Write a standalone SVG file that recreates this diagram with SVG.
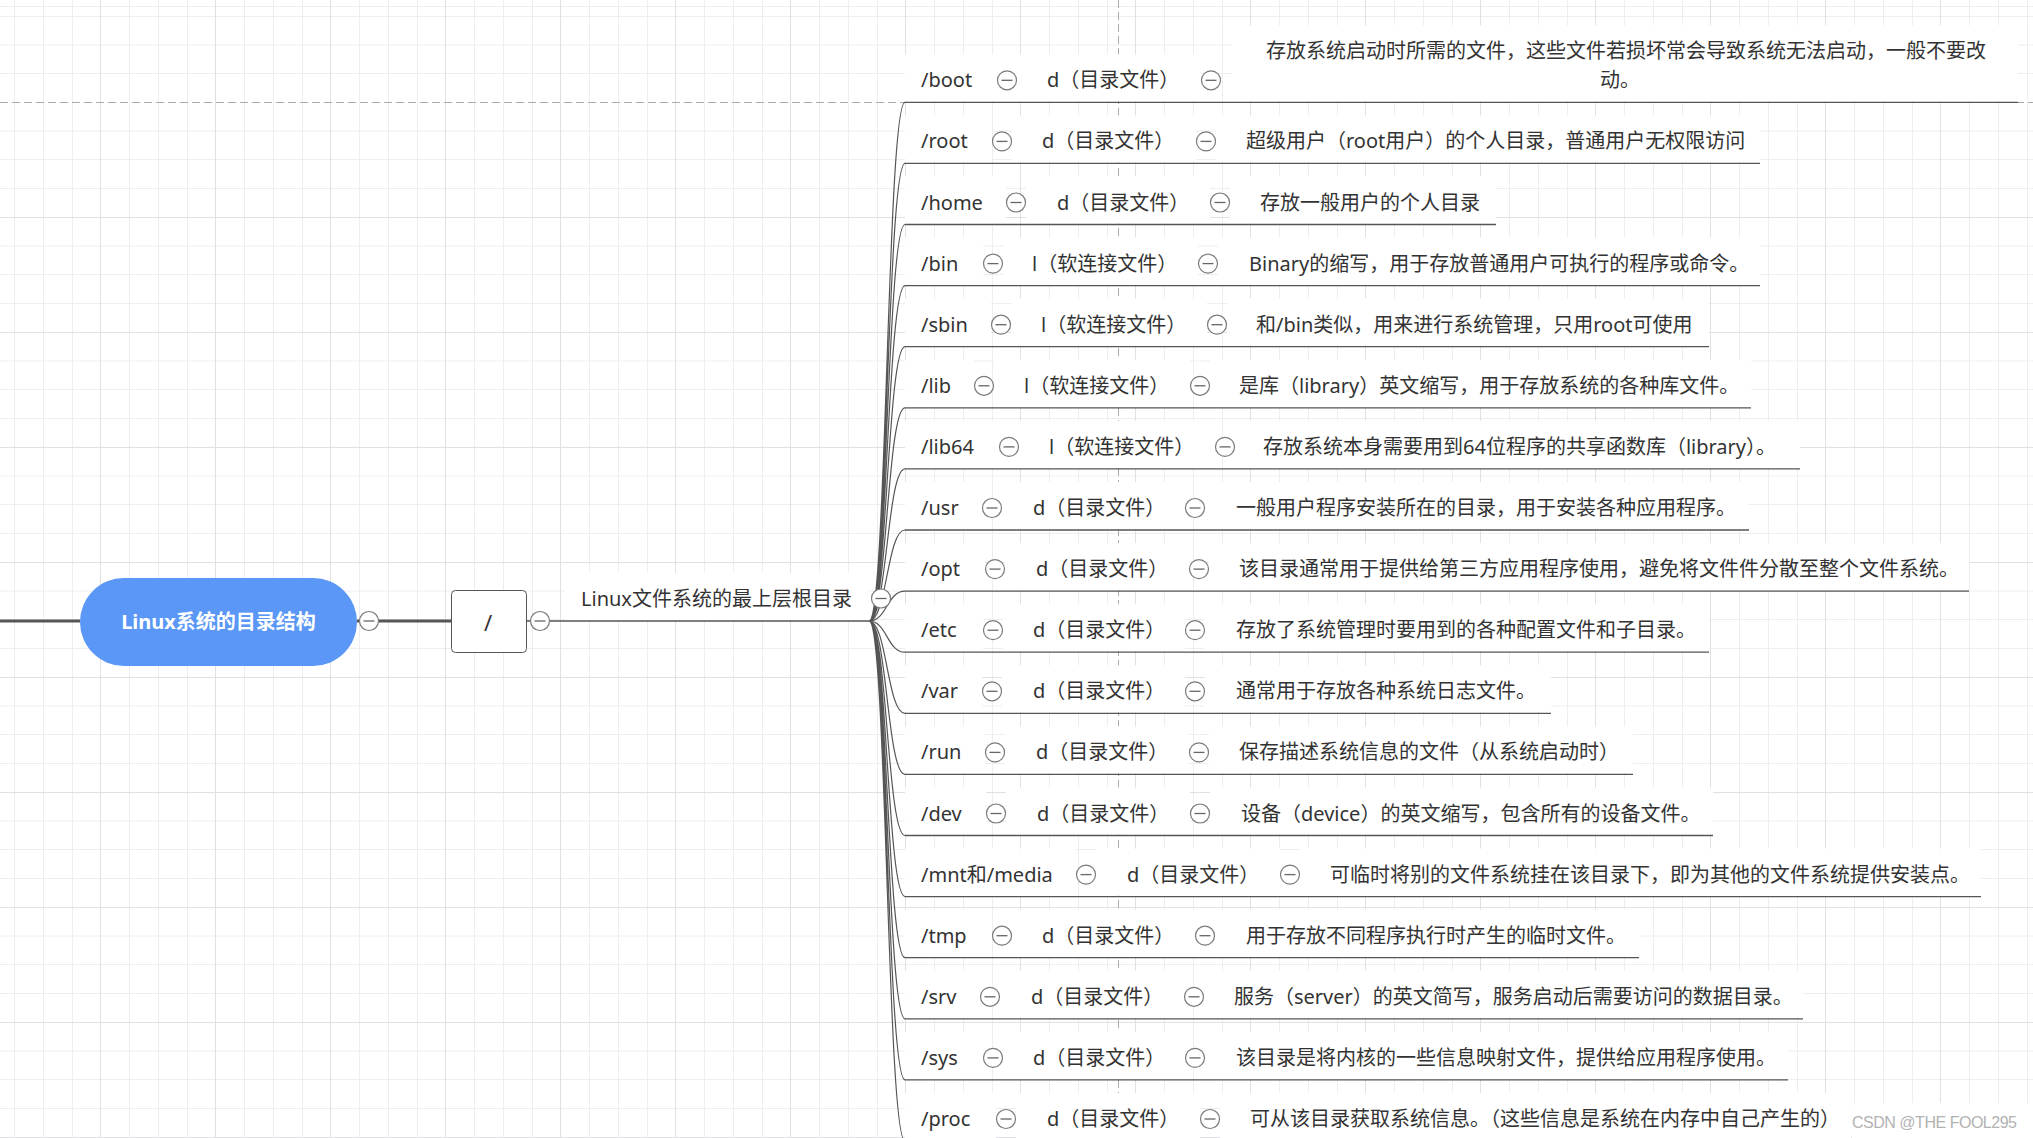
<svg xmlns="http://www.w3.org/2000/svg" xmlns:xlink="http://www.w3.org/1999/xlink" width="2033" height="1138" viewBox="0 0 2033 1138">
<style>
.t{font-family:"Noto Sans","Noto Sans CJK SC",sans-serif;font-size:20px;fill:#333}
.bg{fill:#fff}
.ul{stroke:#555;stroke-width:1.3;fill:none}
.minor{stroke:#eeeef2;stroke-width:1;fill:none}
.major{stroke:#e0e0e5;stroke-width:1;fill:none}
.dash{stroke:#ababab;stroke-width:1;stroke-dasharray:8 4;fill:none}
.thick{stroke:#555;stroke-width:3;fill:none}
.thin{stroke:#555;stroke-width:1.3;fill:none}
.br{stroke:#555;stroke-width:1.2;fill:none}
</style>
<defs>
<g id="minus"><circle r="9.5" fill="#fff" stroke="#7a7a7a" stroke-width="1.2"/><path d="M-5.5 0H5.5" stroke="#666" stroke-width="1.3"/></g>
</defs>
<rect width="2033" height="1138" fill="#fff"/>
<g id="grid">
<path class="minor" d="M14.5 0V1138M43.5 0V1138M72.5 0V1138M129.5 0V1138M158.5 0V1138M187.5 0V1138M244.5 0V1138M273.5 0V1138M302.5 0V1138M359.5 0V1138M388.5 0V1138M417.5 0V1138M474.5 0V1138M503.5 0V1138M532.5 0V1138M589.5 0V1138M618.5 0V1138M647.5 0V1138M704.5 0V1138M733.5 0V1138M762.5 0V1138M819.5 0V1138M848.5 0V1138M877.5 0V1138M934.5 0V1138M963.5 0V1138M992.5 0V1138M1049.5 0V1138M1078.5 0V1138M1107.5 0V1138M1164.5 0V1138M1193.5 0V1138M1222.5 0V1138M1279.5 0V1138M1308.5 0V1138M1337.5 0V1138M1394.5 0V1138M1423.5 0V1138M1452.5 0V1138M1509.5 0V1138M1538.5 0V1138M1567.5 0V1138M1624.5 0V1138M1653.5 0V1138M1682.5 0V1138M1739.5 0V1138M1768.5 0V1138M1797.5 0V1138M1854.5 0V1138M1883.5 0V1138M1912.5 0V1138M1969.5 0V1138M1998.5 0V1138M2027.5 0V1138
M0 6.5H2033M0 16.5H2033M0 45H2033M0 73.5H2033M0 131H2033M0 159.5H2033M0 188.5H2033M0 246H2033M0 274.5H2033M0 303.5H2033M0 361H2033M0 389.5H2033M0 418.5H2033M0 476H2033M0 504.5H2033M0 533.5H2033M0 591H2033M0 619.5H2033M0 648.5H2033M0 706H2033M0 734.5H2033M0 763.5H2033M0 821H2033M0 849.5H2033M0 878.5H2033M0 936H2033M0 964.5H2033M0 993.5H2033M0 1051H2033M0 1079.5H2033M0 1108.5H2033"/>
<path class="major" d="M100.5 0V1138M215.5 0V1138M330.5 0V1138M445.5 0V1138M560.5 0V1138M675.5 0V1138M790.5 0V1138M905.5 0V1138M1020.5 0V1138M1135.5 0V1138M1250.5 0V1138M1365.5 0V1138M1480.5 0V1138M1595.5 0V1138M1710.5 0V1138M1825.5 0V1138M1940.5 0V1138
M0 217.5H2033M0 332.5H2033M0 447.5H2033M0 562.5H2033M0 677.5H2033M0 792.5H2033M0 907.5H2033M0 1022.5H2033M0 1137.5H2033"/>
<path class="dash" d="M0 102.5H2033M1118.5 0V1138"/>
</g>
<g id="connectors">
<path class="thick" d="M0 621H80M357 621H451"/>
<path class="thin" d="M526 621H869"/>
<path class="br" d="M869 621C887 621 887 102.3 905 102.3M869 621C887 621 887 163.4 905 163.4M869 621C887 621 887 224.5 905 224.5M869 621C887 621 887 285.6 905 285.6M869 621C887 621 887 346.7 905 346.7M869 621C887 621 887 407.8 905 407.8M869 621C887 621 887 468.9 905 468.9M869 621C887 621 887 530 905 530M869 621C887 621 887 591.1 905 591.1M869 621C887 621 887 652.2 905 652.2M869 621C887 621 887 713.3 905 713.3M869 621C887 621 887 774.4 905 774.4M869 621C887 621 887 835.5 905 835.5M869 621C887 621 887 896.6 905 896.6M869 621C887 621 887 957.7 905 957.7M869 621C887 621 887 1018.8 905 1018.8M869 621C887 621 887 1079.9 905 1079.9M869 621C887 621 887 1141 905 1141"/>
</g>
<g id="node-root">
<rect x="80" y="578" width="277" height="88" rx="44" fill="#5a97f6"/>
<text x="218.5" y="629" text-anchor="middle" style="font-family:'Noto Sans','Noto Sans CJK SC',sans-serif;font-size:20px;font-weight:bold;fill:#fff">Linux系统的目录结构</text>
<use href="#minus" x="369" y="621"/>
</g>
<g id="node-slash">
<rect x="451.5" y="590.5" width="75" height="62" rx="4" fill="#fff" stroke="#555" stroke-width="1"/>
<text x="488" y="631" text-anchor="middle" class="t" style="font-size:22px">/</text>
<use href="#minus" x="540" y="621"/>
</g>
<g id="node-label">
<rect class="bg" x="565" y="573" width="304" height="47"/>
<text class="t" x="581" y="606">Linux文件系统的最上层根目录</text>
<use href="#minus" x="881" y="598.5"/>
</g>

<g id="row-boot" transform="translate(0,102.3)">
<g id="n-boot"><rect class="bg" x="905" y="-48" width="92" height="47"/><path class="ul" d="M905 0H1007"/><text class="t" x="921" y="-15">/boot</text></g>
<g id="n-boot-type"><rect class="bg" x="1017" y="-48" width="184" height="47"/><path class="ul" d="M1007 0H1211"/><text class="t" x="1047" y="-15">d（目录文件）</text></g>
<g id="n-boot-desc"><rect class="bg" x="1232" y="-77" width="786" height="76"/><path class="ul" d="M1211 0H2018"/><text class="t" x="1626" y="-44.3" text-anchor="middle">存放系统启动时所需的文件，这些文件若损坏常会导致系统无法启动，一般不要改</text><text class="t" x="1620" y="-15" text-anchor="middle">动。</text></g>
<use href="#minus" x="1007" y="-22"/><use href="#minus" x="1211" y="-22"/>
</g>

<g id="row-root" transform="translate(0,163.4)">
<g id="n-root"><rect class="bg" x="905" y="-48" width="87" height="47"/><path class="ul" d="M905 0H1002"/><text class="t" x="921" y="-15">/root</text></g>
<g id="n-root-type"><rect class="bg" x="1012" y="-48" width="184" height="47"/><path class="ul" d="M1002 0H1206"/><text class="t" x="1042" y="-15">d（目录文件）</text></g>
<g id="n-root-desc"><rect class="bg" x="1216" y="-48" width="544" height="47"/><path class="ul" d="M1206 0H1760"/><text class="t" x="1246" y="-15">超级用户（root用户）的个人目录，普通用户无权限访问</text></g>
<use href="#minus" x="1002" y="-22"/><use href="#minus" x="1206" y="-22"/>
</g>

<g id="row-home" transform="translate(0,224.5)">
<g id="n-home"><rect class="bg" x="905" y="-48" width="101" height="47"/><path class="ul" d="M905 0H1016"/><text class="t" x="921" y="-15">/home</text></g>
<g id="n-home-type"><rect class="bg" x="1026" y="-48" width="184" height="47"/><path class="ul" d="M1016 0H1220"/><text class="t" x="1057" y="-15">d（目录文件）</text></g>
<g id="n-home-desc"><rect class="bg" x="1230" y="-48" width="266" height="47"/><path class="ul" d="M1220 0H1496"/><text class="t" x="1260" y="-15">存放一般用户的个人目录</text></g>
<use href="#minus" x="1016" y="-22"/><use href="#minus" x="1220" y="-22"/>
</g>

<g id="row-bin" transform="translate(0,285.6)">
<g id="n-bin"><rect class="bg" x="905" y="-48" width="78" height="47"/><path class="ul" d="M905 0H993"/><text class="t" x="921" y="-15">/bin</text></g>
<g id="n-bin-type"><rect class="bg" x="1003" y="-48" width="195" height="47"/><path class="ul" d="M993 0H1208"/><text class="t" x="1032" y="-15">l（软连接文件）</text></g>
<g id="n-bin-desc"><rect class="bg" x="1218" y="-48" width="542" height="47"/><path class="ul" d="M1208 0H1760"/><text class="t" x="1249" y="-15">Binary的缩写，用于存放普通用户可执行的程序或命令。</text></g>
<use href="#minus" x="993" y="-22"/><use href="#minus" x="1208" y="-22"/>
</g>

<g id="row-sbin" transform="translate(0,346.7)">
<g id="n-sbin"><rect class="bg" x="905" y="-48" width="86" height="47"/><path class="ul" d="M905 0H1001"/><text class="t" x="921" y="-15">/sbin</text></g>
<g id="n-sbin-type"><rect class="bg" x="1011" y="-48" width="196" height="47"/><path class="ul" d="M1001 0H1217"/><text class="t" x="1041" y="-15">l（软连接文件）</text></g>
<g id="n-sbin-desc"><rect class="bg" x="1227" y="-48" width="482" height="47"/><path class="ul" d="M1217 0H1709"/><text class="t" x="1256" y="-15">和/bin类似，用来进行系统管理，只用root可使用</text></g>
<use href="#minus" x="1001" y="-22"/><use href="#minus" x="1217" y="-22"/>
</g>

<g id="row-lib" transform="translate(0,407.8)">
<g id="n-lib"><rect class="bg" x="905" y="-48" width="69" height="47"/><path class="ul" d="M905 0H984"/><text class="t" x="921" y="-15">/lib</text></g>
<g id="n-lib-type"><rect class="bg" x="994" y="-48" width="196" height="47"/><path class="ul" d="M984 0H1200"/><text class="t" x="1024" y="-15">l（软连接文件）</text></g>
<g id="n-lib-desc"><rect class="bg" x="1210" y="-48" width="541" height="47"/><path class="ul" d="M1200 0H1751"/><text class="t" x="1239" y="-15">是库（library）英文缩写，用于存放系统的各种库文件。</text></g>
<use href="#minus" x="984" y="-22"/><use href="#minus" x="1200" y="-22"/>
</g>

<g id="row-lib64" transform="translate(0,468.9)">
<g id="n-lib64"><rect class="bg" x="905" y="-48" width="94" height="47"/><path class="ul" d="M905 0H1009"/><text class="t" x="921" y="-15">/lib64</text></g>
<g id="n-lib64-type"><rect class="bg" x="1019" y="-48" width="196" height="47"/><path class="ul" d="M1009 0H1225"/><text class="t" x="1049" y="-15">l（软连接文件）</text></g>
<g id="n-lib64-desc"><rect class="bg" x="1235" y="-48" width="565" height="47"/><path class="ul" d="M1225 0H1800"/><text class="t" x="1263" y="-15">存放系统本身需要用到64位程序的共享函数库（library）。</text></g>
<use href="#minus" x="1009" y="-22"/><use href="#minus" x="1225" y="-22"/>
</g>

<g id="row-usr" transform="translate(0,530)">
<g id="n-usr"><rect class="bg" x="905" y="-48" width="77" height="47"/><path class="ul" d="M905 0H992"/><text class="t" x="921" y="-15">/usr</text></g>
<g id="n-usr-type"><rect class="bg" x="1002" y="-48" width="183" height="47"/><path class="ul" d="M992 0H1195"/><text class="t" x="1033" y="-15">d（目录文件）</text></g>
<g id="n-usr-desc"><rect class="bg" x="1205" y="-48" width="544" height="47"/><path class="ul" d="M1195 0H1749"/><text class="t" x="1236" y="-15">一般用户程序安装所在的目录，用于安装各种应用程序。</text></g>
<use href="#minus" x="992" y="-22"/><use href="#minus" x="1195" y="-22"/>
</g>

<g id="row-opt" transform="translate(0,591.1)">
<g id="n-opt"><rect class="bg" x="905" y="-48" width="80" height="47"/><path class="ul" d="M905 0H995"/><text class="t" x="921" y="-15">/opt</text></g>
<g id="n-opt-type"><rect class="bg" x="1005" y="-48" width="184" height="47"/><path class="ul" d="M995 0H1199"/><text class="t" x="1036" y="-15">d（目录文件）</text></g>
<g id="n-opt-desc"><rect class="bg" x="1209" y="-48" width="760" height="47"/><path class="ul" d="M1199 0H1969"/><text class="t" x="1239" y="-15">该目录通常用于提供给第三方应用程序使用，避免将文件件分散至整个文件系统。</text></g>
<use href="#minus" x="995" y="-22"/><use href="#minus" x="1199" y="-22"/>
</g>

<g id="row-etc" transform="translate(0,652.2)">
<g id="n-etc"><rect class="bg" x="905" y="-48" width="78" height="47"/><path class="ul" d="M905 0H993"/><text class="t" x="921" y="-15">/etc</text></g>
<g id="n-etc-type"><rect class="bg" x="1003" y="-48" width="182" height="47"/><path class="ul" d="M993 0H1195"/><text class="t" x="1033" y="-15">d（目录文件）</text></g>
<g id="n-etc-desc"><rect class="bg" x="1205" y="-48" width="504" height="47"/><path class="ul" d="M1195 0H1709"/><text class="t" x="1236" y="-15">存放了系统管理时要用到的各种配置文件和子目录。</text></g>
<use href="#minus" x="993" y="-22"/><use href="#minus" x="1195" y="-22"/>
</g>

<g id="row-var" transform="translate(0,713.3)">
<g id="n-var"><rect class="bg" x="905" y="-48" width="77" height="47"/><path class="ul" d="M905 0H992"/><text class="t" x="921" y="-15">/var</text></g>
<g id="n-var-type"><rect class="bg" x="1002" y="-48" width="183" height="47"/><path class="ul" d="M992 0H1195"/><text class="t" x="1033" y="-15">d（目录文件）</text></g>
<g id="n-var-desc"><rect class="bg" x="1205" y="-48" width="346" height="47"/><path class="ul" d="M1195 0H1551"/><text class="t" x="1236" y="-15">通常用于存放各种系统日志文件。</text></g>
<use href="#minus" x="992" y="-22"/><use href="#minus" x="1195" y="-22"/>
</g>

<g id="row-run" transform="translate(0,774.4)">
<g id="n-run"><rect class="bg" x="905" y="-48" width="80" height="47"/><path class="ul" d="M905 0H995"/><text class="t" x="921" y="-15">/run</text></g>
<g id="n-run-type"><rect class="bg" x="1005" y="-48" width="184" height="47"/><path class="ul" d="M995 0H1199"/><text class="t" x="1036" y="-15">d（目录文件）</text></g>
<g id="n-run-desc"><rect class="bg" x="1209" y="-48" width="424" height="47"/><path class="ul" d="M1199 0H1633"/><text class="t" x="1239" y="-15">保存描述系统信息的文件（从系统启动时）</text></g>
<use href="#minus" x="995" y="-22"/><use href="#minus" x="1199" y="-22"/>
</g>

<g id="row-dev" transform="translate(0,835.5)">
<g id="n-dev"><rect class="bg" x="905" y="-48" width="81" height="47"/><path class="ul" d="M905 0H996"/><text class="t" x="921" y="-15">/dev</text></g>
<g id="n-dev-type"><rect class="bg" x="1006" y="-48" width="184" height="47"/><path class="ul" d="M996 0H1200"/><text class="t" x="1037" y="-15">d（目录文件）</text></g>
<g id="n-dev-desc"><rect class="bg" x="1210" y="-48" width="503" height="47"/><path class="ul" d="M1200 0H1713"/><text class="t" x="1241" y="-15">设备（device）的英文缩写，包含所有的设备文件。</text></g>
<use href="#minus" x="996" y="-22"/><use href="#minus" x="1200" y="-22"/>
</g>

<g id="row-mnt" transform="translate(0,896.6)">
<g id="n-mnt"><rect class="bg" x="905" y="-48" width="171" height="47"/><path class="ul" d="M905 0H1086"/><text class="t" x="921" y="-15">/mnt和/media</text></g>
<g id="n-mnt-type"><rect class="bg" x="1096" y="-48" width="184" height="47"/><path class="ul" d="M1086 0H1290"/><text class="t" x="1127" y="-15">d（目录文件）</text></g>
<g id="n-mnt-desc"><rect class="bg" x="1300" y="-48" width="681" height="47"/><path class="ul" d="M1290 0H1981"/><text class="t" x="1330" y="-15">可临时将别的文件系统挂在该目录下，即为其他的文件系统提供安装点。</text></g>
<use href="#minus" x="1086" y="-22"/><use href="#minus" x="1290" y="-22"/>
</g>

<g id="row-tmp" transform="translate(0,957.7)">
<g id="n-tmp"><rect class="bg" x="905" y="-48" width="87" height="47"/><path class="ul" d="M905 0H1002"/><text class="t" x="921" y="-15">/tmp</text></g>
<g id="n-tmp-type"><rect class="bg" x="1012" y="-48" width="183" height="47"/><path class="ul" d="M1002 0H1205"/><text class="t" x="1042" y="-15">d（目录文件）</text></g>
<g id="n-tmp-desc"><rect class="bg" x="1215" y="-48" width="424" height="47"/><path class="ul" d="M1205 0H1639"/><text class="t" x="1246" y="-15">用于存放不同程序执行时产生的临时文件。</text></g>
<use href="#minus" x="1002" y="-22"/><use href="#minus" x="1205" y="-22"/>
</g>

<g id="row-srv" transform="translate(0,1018.8)">
<g id="n-srv"><rect class="bg" x="905" y="-48" width="75" height="47"/><path class="ul" d="M905 0H990"/><text class="t" x="921" y="-15">/srv</text></g>
<g id="n-srv-type"><rect class="bg" x="1000" y="-48" width="184" height="47"/><path class="ul" d="M990 0H1194"/><text class="t" x="1031" y="-15">d（目录文件）</text></g>
<g id="n-srv-desc"><rect class="bg" x="1204" y="-48" width="599" height="47"/><path class="ul" d="M1194 0H1803"/><text class="t" x="1234" y="-15">服务（server）的英文简写，服务启动后需要访问的数据目录。</text></g>
<use href="#minus" x="990" y="-22"/><use href="#minus" x="1194" y="-22"/>
</g>

<g id="row-sys" transform="translate(0,1079.9)">
<g id="n-sys"><rect class="bg" x="905" y="-48" width="78" height="47"/><path class="ul" d="M905 0H993"/><text class="t" x="921" y="-15">/sys</text></g>
<g id="n-sys-type"><rect class="bg" x="1003" y="-48" width="182" height="47"/><path class="ul" d="M993 0H1195"/><text class="t" x="1033" y="-15">d（目录文件）</text></g>
<g id="n-sys-desc"><rect class="bg" x="1205" y="-48" width="583" height="47"/><path class="ul" d="M1195 0H1788"/><text class="t" x="1236" y="-15">该目录是将内核的一些信息映射文件，提供给应用程序使用。</text></g>
<use href="#minus" x="993" y="-22"/><use href="#minus" x="1195" y="-22"/>
</g>

<g id="row-proc" transform="translate(0,1141)">
<g id="n-proc"><rect class="bg" x="905" y="-48" width="91" height="47"/><path class="ul" d="M905 0H1006"/><text class="t" x="921" y="-15">/proc</text></g>
<g id="n-proc-type"><rect class="bg" x="1016" y="-48" width="184" height="47"/><path class="ul" d="M1006 0H1210"/><text class="t" x="1047" y="-15">d（目录文件）</text></g>
<g id="n-proc-desc"><rect class="bg" x="1220" y="-48" width="631" height="47"/><path class="ul" d="M1210 0H1851"/><text class="t" x="1250" y="-15">可从该目录获取系统信息。（这些信息是系统在内存中自己产生的）</text></g>
<use href="#minus" x="1006" y="-22"/><use href="#minus" x="1210" y="-22"/>
</g>

<g id="watermark">
<rect x="1852" y="1103" width="181" height="35" fill="#fff"/>
<text x="1852" y="1128" textLength="165" style="font-family:'Liberation Sans',Arial,sans-serif;font-size:16px;fill:#b2b2b2">CSDN @THE FOOL295</text>
</g>
</svg>
